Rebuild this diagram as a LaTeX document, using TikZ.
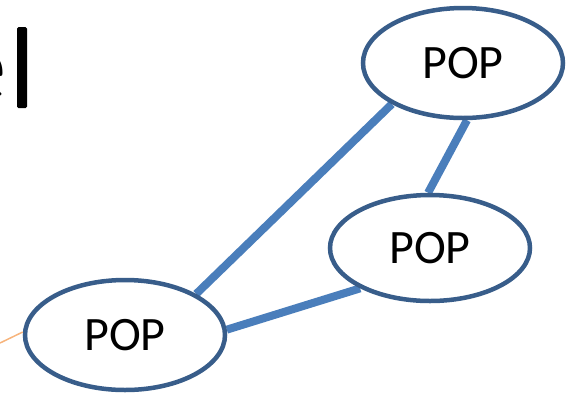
\documentclass[tikz,border=0pt]{standalone}
\usepackage{fontspec}
\setmainfont{Carlito}
\usetikzlibrary{shapes.geometric,backgrounds}
\definecolor{popedge}{HTML}{385D8A}
\definecolor{linkblue}{HTML}{4A7EBB}
\definecolor{feedorange}{HTML}{F7B47C}
\tikzset{
  pop/.style={ellipse, draw=popedge, line width=4.5pt, fill=white,
    minimum width=200pt, minimum height=110pt, inner sep=0pt,
    font=\fontsize{48}{48}\selectfont},
  link/.style={draw=linkblue, line width=8pt},
  feed/.style={draw=feedorange, line width=1.5pt}
}
\begin{document}
\begin{tikzpicture}[x=1pt,y=-1pt]
  \useasboundingbox (0,0) rectangle (571,392);
  \clip (0,0) rectangle (571,392);
  % trailing letter of the title and the text cursor
  \node[anchor=base east, inner sep=0pt, font=\fontsize{105}{105}\selectfont]
    (title) at (6.5,101) {e};
  \fill[rounded corners=1.5pt] (17,27) rectangle (27,108);
  % access points
  \node[pop] (popA) at (463,63) {POP};
  \node[pop, minimum height=106pt] (popB) at (430,248) {POP};
  \node[pop] (popC) at (125,335) {POP};
  \coordinate (feedin) at (0,343);
  \begin{scope}[on background layer]
    \draw[link] (popC.30) -- (popA.210);
    \draw[link] (popC.3) -- (popB.210);
    \draw[link] (popA.-86) -- (popB.92);
  \end{scope}
  \draw[feed] (feedin) -- (popC.west |- 0,332);
\end{tikzpicture}
\end{document}
